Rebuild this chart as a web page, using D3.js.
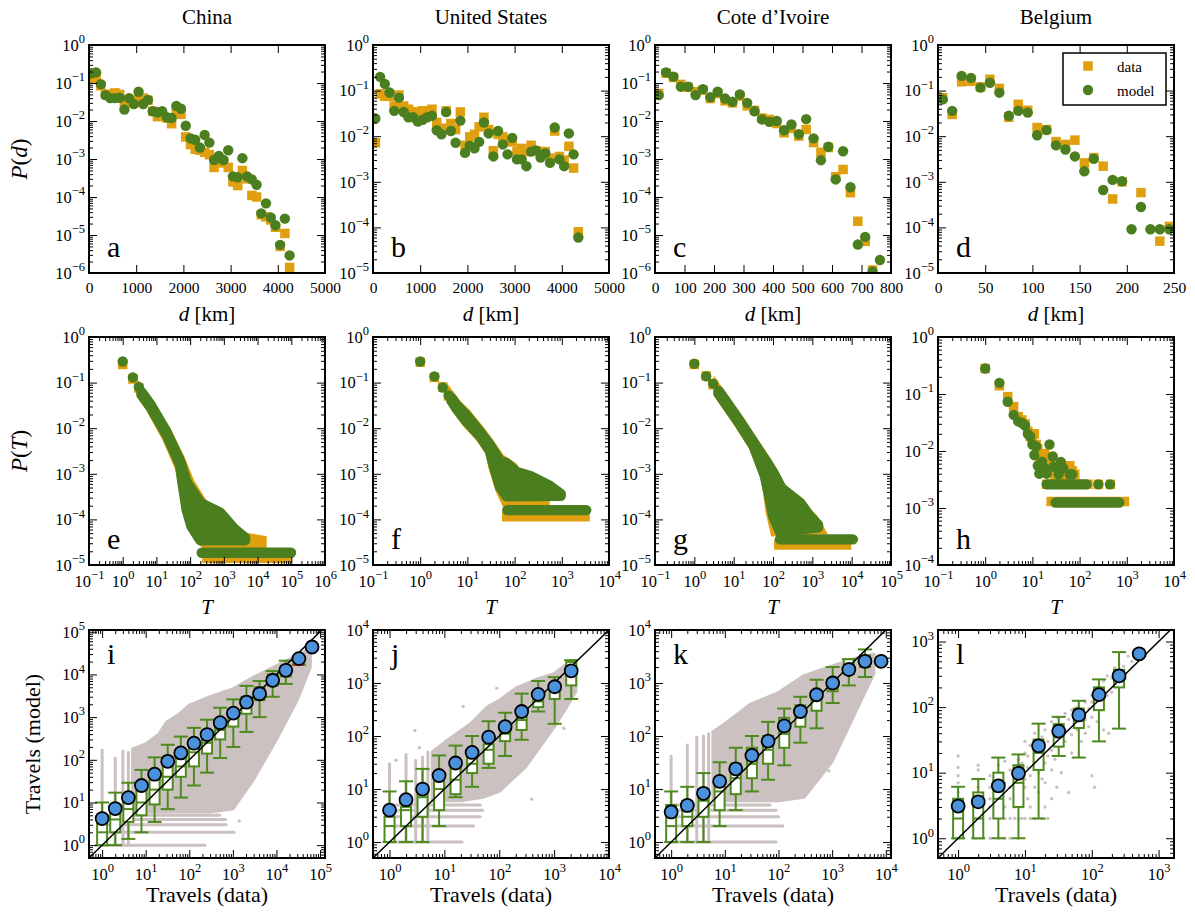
<!DOCTYPE html>
<html>
<head>
<meta charset="utf-8">
<script src="https://cdn.jsdelivr.net/npm/d3@7"></script>
<style>
  body { margin: 0; background: #fff; }
</style>
</head>
<body>
<script>
// ---------------- data ----------------
const countries = ["China", "United States", "Cote d\u2019Ivoire", "Belgium"];

// row 1: distance distributions P(d)
const chinaD = [50,150,250,350,450,550,650,750,850,950,1050,1150,1250,1350,1450,1550,1650,1750,1850,1950,2050,2150,2250,2350,2450,2550,2650,2750,2850,2950,3050,3150,3250,3350,3450,3550,3650,3750,3850,3950,4050,4150,4250];
const chinaDistData = [0.13,0.15,0.085,0.05,0.05,0.055,0.05,0.03,0.035,0.03,0.04,0.04,0.035,0.018,0.013,0.015,0.012,0.0085,0.018,0.015,0.0038,0.0024,0.0018,0.0017,0.0015,0.0013,0.0006,0.0008,0.0008,0.0006,0.00025,0.0002,0.0005,0.0003,0.00011,0.0001,3.4e-5,3e-5,2.5e-5,1.6e-5,5e-6,1.1e-5,1.4e-6];
const chinaDistModel = [0.18,0.19,0.093,0.048,0.04,0.04,0.041,0.02,0.04,0.028,0.059,0.028,0.036,0.018,0.017,0.018,0.0125,0.012,0.025,0.021,0.0075,0.0035,0.0032,0.002,0.0043,0.0027,0.00094,0.0012,0.00094,0.0017,0.00035,0.00033,0.00105,0.00035,0.00029,0.00021,3.7e-5,6.8e-5,2.9e-5,1.8e-5,5.5e-6,2.7e-5,2.9e-6];

const usD = [50,150,250,350,450,550,650,750,850,950,1050,1150,1250,1350,1450,1550,1650,1750,1850,1950,2050,2150,2250,2350,2450,2550,2650,2750,2850,2950,3050,3150,3250,3350,3450,3550,3650,3750,3850,3950,4050,4150,4250,4350];
const usDistData = [0.0072,0.085,0.075,0.075,0.046,0.08,0.046,0.039,0.034,0.034,0.036,0.036,0.039,0.020,0.015,0.036,0.019,0.014,0.034,0.0063,0.0097,0.011,0.016,0.026,0.014,0.0048,0.011,0.0097,0.008,0.0075,0.0046,0.0054,0.0046,0.0063,0.0048,0.0046,0.0046,0.0033,0.013,0.0036,0.003,0.006,0.002,8e-5];
const usDistModel = [0.0245,0.20,0.14,0.091,0.036,0.07,0.034,0.026,0.026,0.021,0.023,0.026,0.028,0.0135,0.011,0.034,0.013,0.0072,0.022,0.0043,0.0062,0.0054,0.0075,0.020,0.0115,0.0036,0.013,0.0066,0.0040,0.0092,0.0031,0.0031,0.0022,0.0046,0.0049,0.0034,0.0042,0.0026,0.0155,0.0031,0.0022,0.0115,0.0040,6e-5];

const civD = [12.5,37.5,62.5,87.5,112.5,137.5,162.5,187.5,212.5,237.5,262.5,287.5,312.5,337.5,362.5,387.5,412.5,437.5,462.5,487.5,512.5,537.5,562.5,587.5,612.5,637.5,662.5,687.5,712.5,737.5,762.5];
const civDistData = [0.053,0.18,0.14,0.092,0.077,0.059,0.065,0.039,0.053,0.034,0.030,0.045,0.025,0.019,0.012,0.011,0.0086,0.0049,0.0064,0.0040,0.006,0.0027,0.0015,0.002,0.00034,0.00053,0.00013,2.3e-5,6.8e-6,1.2e-6,null];
const civDistModel = [0.048,0.19,0.147,0.08,0.08,0.048,0.069,0.042,0.059,0.039,0.032,0.050,0.030,0.018,0.011,0.0095,0.010,0.0057,0.0081,0.0045,0.0112,0.0035,0.00093,0.0021,0.00029,0.0016,0.00018,5.6e-6,8.9e-6,1.1e-6,2.2e-6];

const belD = [5,15,25,35,45,55,65,75,85,95,105,115,125,135,145,155,165,175,185,195,205,215,225,235,245];
const belDistData = [0.07,0.030,0.156,0.16,0.12,0.177,0.112,0.026,0.050,0.037,0.0155,0.014,0.0076,0.0066,0.0082,0.0026,0.0034,0.0022,0.00042,0.001,null,0.00058,null,5e-5,0.000105];
const belDistModel = [0.064,0.036,0.21,0.19,0.116,0.149,0.090,0.028,0.036,0.033,0.0105,0.0136,0.0063,0.0051,0.0036,0.0017,0.0032,0.00066,0.0011,0.00103,9.1e-5,0.00028,9.1e-5,9.1e-5,9.1e-5];

// row 2: travels distributions P(T)
// pts: separate markers, band: outline of the dense run of marker centres, runs: [T from, T to, P]
const chinaTripDataPts = [[1,0.25],[2,0.12],[3,0.076]];
const chinaTripDataBand = [[3.6,0.06],[6.5,0.033],[20,0.0085],[50,0.0022],[100,6.3e-4],[316,1.6e-4],[1230,8.3e-5],[3100,4.2e-5],[13500,3.5e-5],[13500,2.75e-5],[316,2.75e-5],[200,3.5e-5],[100,1.2e-4],[60,6e-4],[50,0.0013],[20,0.0062],[6.5,0.028],[3.6,0.052]];
const chinaTripDataRuns = [[316,75000,1.4e-5]];
const chinaTripModelPts = [[1,0.29],[2,0.13],[3,0.08]];
const chinaTripModelBand = [[3.6,0.062],[6.5,0.034],[20,0.0082],[50,0.0019],[79,6.6e-4],[200,2.3e-4],[780,1.4e-4],[1950,6.4e-5],[4300,3.9e-5],[4300,3.5e-5],[200,3.5e-5],[110,7e-5],[79,1.6e-4],[60,6e-4],[50,0.0016],[20,0.0072],[6.5,0.03],[3.6,0.055]];
const chinaTripModelRuns = [[220,98000,1.86e-5]];

const usTripDataPts = [[1,0.28],[2,0.13],[3,0.08],[4,0.051]];
const usTripDataBand = [[4.6,0.048],[5.9,0.034],[9.6,0.021],[18.6,0.009],[30,0.0046],[49,0.0022],[94,0.0014],[130,6.3e-4],[345,5.7e-4],[440,3.7e-4],[440,2.2e-4],[68,2.2e-4],[49,4.5e-4],[35,0.0014],[30,0.003],[18.6,0.0062],[9.6,0.013],[5.9,0.026],[4.6,0.039]];
const usTripDataRuns = [[68,3100,1.15e-4]];
const usTripModelPts = [[1,0.29],[2,0.137],[3,0.078],[4,0.052]];
const usTripModelBand = [[4.6,0.046],[5.9,0.032],[9.6,0.019],[18.6,0.0082],[30,0.0043],[49,0.0019],[68,0.0017],[110,0.0011],[213,9e-4],[560,5.4e-4],[950,3.6e-4],[950,3.3e-4],[68,3.2e-4],[49,5.2e-4],[35,0.0017],[30,0.0032],[18.6,0.0068],[9.6,0.014],[5.9,0.027],[4.6,0.04]];
const usTripModelRuns = [[70,3300,1.6e-4]];

const civTripDataPts = [[1,0.25],[2,0.14],[3,0.09]];
const civTripDataBand = [[4.1,0.068],[6.6,0.038],[14.5,0.0145],[31.6,0.0052],[69,0.0019],[102,1.1e-3],[167,4.5e-4],[490,1.9e-4],[1070,1.05e-4],[1560,5.9e-5],[112,5.4e-5],[84,1.6e-4],[69,6e-4],[55,0.0013],[31.6,0.004],[14.5,0.0115],[6.6,0.031],[4.1,0.056]];
const civTripDataRuns = [[140,7400,2.75e-5]];
const civTripModelPts = [[1,0.26],[2,0.137],[3,0.095]];
const civTripModelBand = [[4.1,0.066],[6.6,0.037],[14.5,0.014],[31.6,0.005],[69,0.0018],[102,1.05e-3],[166,4.8e-4],[490,2.3e-4],[880,1.15e-4],[1400,7.6e-5],[1400,6.7e-5],[150,5.4e-5],[102,1.15e-4],[76,4e-4],[62,9e-4],[31.6,0.0042],[14.5,0.012],[6.6,0.032],[4.1,0.058]];
const civTripModelRuns = [[150,10700,3.65e-5]];

const belTripDataPts = [[1,0.28],[2,0.14],[3,0.09],[4,0.06],[5,0.04],[6,0.035],[7,0.03],[8,0.022],[9,0.018],[10,0.016],[11,0.02],[12,0.013],[13,0.011],[14,0.0066],[15,0.006],[16,0.007],[17,0.005],[18,0.009],[20,0.006],[22,0.0045],[24,0.0055],[25,0.008],[28,0.005],[30,0.0035],[35,0.004],[40,0.0045],[45,0.0035],[50,0.005],[62,0.0055],[70,0.0045],[79,0.0039]];
const belTripDataRuns = [[20,150,0.0026],[250,250,0.0026],[450,450,0.0026],[25,890,0.0013]];
const belTripModelPts = [[1,0.28],[2,0.157],[3,0.073],[4,0.043],[5,0.033],[6,0.031],[7,0.028],[8,0.02],[9,0.018],[10,0.013],[11,0.0085],[12,0.012],[13,0.0055],[14,0.004],[16,0.0065],[18,0.005],[20,0.004],[23,0.013],[27,0.008],[28,0.0053],[36,0.0039],[40,0.0064],[45,0.005],[62,0.0039],[70,0.0039]];
const belTripModelRuns = [[20,140,0.0026],[250,250,0.0026],[440,440,0.0026],[31,690,0.00125]];

// row 3: travels model vs data, binned
const chinaBins = [1,2,4,8,16,32,64,128,256,512,1024,2048,4096,8192,16384,32768,65536];
const chinaMean = [4.2,7.2,13,25,46,92,145,245,390,740,1240,2240,3530,7300,12500,23500,44000];
const chinaBox = [[1,1,2,4,10],[1,2,4,8,17],[1.4,3.5,7,15,29],[2,5,10,20,58],[3.5,9,20,45,114],[7,20,40,70,225],[13,40,70,120,350],[25,70,150,250,560],[50,140,250,400,870],[110,300,500,800,1660],[200,600,1000,1500,2600],[450,1200,1800,3000,5400],[1000,2500,3500,5000,7000],[3000,5500,7000,10000,12000],[6000,9000,12000,15000,21000],[17000,17000,17000,17000,17000]];
const chinaCloud = [[5,6],[5,180],[10,236],[20,400],[30,760],[60,1200],[100,1900],[300,3000],[1000,4600],[3000,8700],[10000,16000],[30000,28000],[60000,40000],[60000,15000],[30000,2500],[10000,300],[3000,35],[1000,7],[300,6],[100,6],[30,6],[10,6]];
const chinaVStreaks = [[1,170],[2,110],[3,160],[4,150]];
const chinaHStreaks = [[1,230],[2,1070],[3,700],[4,680],[5,500]];
const chinaScatter = [[1400,3.7]];

const usBins = [1,2,4,8,16,32,64,128,256,512,1024,2048];
const usMean = [4.0,6.3,10,18,31,49,95,150,290,610,850,1700];
const usBox = [[1,1,2,3,9],[1,2,4,4.6,14],[1,3,7,8,24],[2,4,10,14,43],[7,8,15,25,66],[11,20,30,45,100],[25,30,55,70,190],[42,80,110,180,275],[85,130,200,300,630],[290,350,450,700,1090],[170,500,800,1000,1290],[500,900,1800,2500,2700]];
const usCloud = [[6,6],[6,50],[10,76],[30,170],[60,350],[100,470],[200,800],[500,1200],[1000,1500],[2000,2600],[2500,2600],[2500,700],[2000,470],[1000,147],[300,26],[100,9],[50,7],[20,6]];
const usVStreaks = [[1,30],[2,45],[3,35],[4,40],[5,50]];
const usHStreaks = [[1,21],[2,34],[3,45],[4,50],[5,45]];
const usScatter = [[2.9,127],[22,360],[90,800],[220,20],[390,6.4],[1500,140],[3.5,60],[1.3,35]];

const civBins = [1,2,4,8,16,32,64,128,256,512,1024,2048,4096,8192];
const civMean = [3.7,4.9,8.3,14,24,43,80,155,290,600,1000,1800,2570,2570];
const civBox = [[1,1,2,5,9],[1,2,3,6,11],[1,3,6,10,20],[2,4,9,15,32],[4,8,16,30,60],[9,16,30,60,100],[15,30,55,100,185],[28,60,110,220,330],[75,150,250,380,550],[140,300,500,700,1150],[420,700,900,1200,2000],[900,1500,2000,2800,2800],[1300,2000,2600,3300,4300]];
const civCloud = [[6,6],[6,120],[10,170],[30,400],[100,660],[300,1380],[1000,2100],[3000,3000],[6000,3500],[6000,1500],[3000,345],[1000,33],[300,7],[100,6],[30,6]];
const civVStreaks = [[1,42],[2,68],[3,95],[4,100],[5,110]];
const civHStreaks = [[1,90],[2,120],[3,100],[4,90],[5,70]];
const civScatter = [[870,22]];

const belBins = [1,2,4,8,16,32,64,128,256,512];
const belMean = [3.1,3.6,6.3,9.8,25.7,43,76,155,300,650];
const belBox = [[1,1,2,4,6.1],[1,1,2,5,8],[1,2,4,10,17],[1,3,7,13,19],[2,11,20,32,56],[18,25,38,55,71],[17,48,65,95,125],[30,90,150,200,265],[47,200,300,370,690],[630,630,630,630,630]];
const belScatter = [[1,18],[1,12],[1,9],[1,7],[1,5],[1,4],[1,3],[1,2],[2,13],[2,11],[2,8],[2,6],[2,3],[2,2],[3,9],[3,6],[3,4],[3,3],[3,2],[3,1],[4,13],[4,8],[4,5],[4,3],[4,2],[4,1],[5,15],[5,7],[5,3],[5,2],[5,1],[6,11],[6,6],[6,4],[6,2],[6,1],[7,9],[7,5],[7,3],[7,2],[8,16],[8,12],[8,6],[8,4],[8,2],[8,1],[9,14],[9,10],[9,5],[9,3],[9,2],[10,30],[10,20],[10,8],[10,6],[10,2],[11,18],[11,12],[11,4],[12,26],[12,9],[12,3],[12,2],[14,40],[14,15],[14,6],[14,2],[16,25],[16,10],[16,5],[18,35],[18,20],[18,8],[18,2],[20,45],[20,14],[20,7],[20,3],[22,30],[22,18],[22,2],[25,60],[25,22],[25,11],[25,4],[28,48],[28,28],[28,16],[30,70],[30,35],[30,6],[35,55],[35,25],[35,10],[40,80],[40,45],[40,30],[45,65],[45,5],[50,90],[50,38],[50,20],[60,100],[60,70],[60,45],[70,85],[70,55],[70,30],[80,120],[80,65],[80,40],[90,95],[90,50],[100,150],[100,120],[100,70],[100,9],[110,6],[120,200],[120,110],[120,60],[140,180],[140,90],[150,250],[150,130],[170,150],[170,300],[200,280],[200,170],[220,400],[250,330],[300,420],[320,270],[350,600],[400,500],[450,700],[480,550],[500,800],[150,45],[180,40]];

// ---------------- layout ----------------
const colX = [89, 373, 655, 938], rowY = [45, 337, 630];
const PW = 236, PH = 228;
const FONT = "'Liberation Serif', 'Times New Roman', serif";
const ORANGE = "#e09f0e", GREEN = "#4b7e1e", BOXGREEN = "#4f8a1f", GRAY = "#ccc1c1", BLUE = "#4b91db";

const svg = d3.select("body").append("svg")
  .attr("width", 1195).attr("height", 915)
  .attr("font-family", FONT);

let clipCount = 0;
function makePanel(col, row) {
  const g = svg.append("g").attr("transform", `translate(${colX[col]},${rowY[row]})`);
  const id = "clip" + (clipCount++);
  g.append("clipPath").attr("id", id).append("rect").attr("width", PW).attr("height", PH);
  const plot = g.append("g").attr("clip-path", `url(#${id})`);
  return { g, plot };
}

function logTicks(dom) {
  const major = [], minor = [];
  for (let p = -8; p <= 8; p++) {
    for (let k = 1; k < 10; k++) {
      const v = k * Math.pow(10, p);
      if (v < dom[0] * 0.999 || v > dom[1] * 1.001) continue;
      (k === 1 ? major : minor).push(v);
    }
  }
  return { major, minor };
}

function powLabel(text, v) {
  const e = Math.round(Math.log10(v));
  text.text(null).attr("font-size", 16.5);
  text.append("tspan").text("10");
  text.append("tspan").attr("dy", -7.5).attr("font-size", 12.5).text(e < 0 ? "\u2212" + (-e) : e);
}

// xcfg / ycfg: {major, minor, log}
function drawAxes(g, x, y, xcfg, ycfg, xpad) {
  const side = (axis, tr, vals, len, labels, pad, log) => {
    const a = g.append("g")
      .call(axis.tickValues(vals).tickSize(-len).tickPadding(pad).tickFormat(labels ? (d => d) : () => ""));
    if (tr) a.attr("transform", tr);
    a.select(".domain").remove();
    a.attr("font-family", FONT).attr("font-size", 15.5);
    a.selectAll("line").attr("stroke", "#000").attr("stroke-width", 1);
    a.selectAll("text").attr("fill", "#000");
    if (labels && log) a.selectAll("text").each(function (d) { powLabel(d3.select(this), d); });
  };
  side(d3.axisBottom(x), `translate(0,${PH})`, xcfg.major, 8, true, xpad, xcfg.log);
  side(d3.axisTop(x), null, xcfg.major, 8, false, 0);
  side(d3.axisLeft(y), null, ycfg.major, 8, true, 4, ycfg.log);
  side(d3.axisRight(y), `translate(${PW},0)`, ycfg.major, 8, false, 0);
  if (xcfg.minor) {
    side(d3.axisBottom(x), `translate(0,${PH})`, xcfg.minor, 4, false, 0);
    side(d3.axisTop(x), null, xcfg.minor, 4, false, 0);
  }
  if (ycfg.minor) {
    side(d3.axisLeft(y), null, ycfg.minor, 4, false, 0);
    side(d3.axisRight(y), `translate(${PW},0)`, ycfg.minor, 4, false, 0);
  }
  g.append("rect").attr("width", PW).attr("height", PH)
    .attr("fill", "none").attr("stroke", "#000").attr("stroke-width", 2);
}

function letter(g, s, top) {
  g.append("text").attr("x", 18).attr("y", top ? 34 : PH - 16)
    .attr("font-size", 30).text(s);
}

const sq = 9.5, cr = 5.2;
function squares(plot, pts, x, y) {
  plot.selectAll(null).data(pts).join("rect")
    .attr("x", d => x(d[0]) - sq / 2).attr("y", d => y(d[1]) - sq / 2)
    .attr("width", sq).attr("height", sq).attr("fill", ORANGE);
}
function circles(plot, pts, x, y) {
  plot.selectAll(null).data(pts).join("circle")
    .attr("cx", d => x(d[0])).attr("cy", d => y(d[1])).attr("r", cr).attr("fill", GREEN);
}

// ---------------- row 1: P(d) ----------------
const row1 = [
  { d: chinaD, data: chinaDistData, model: chinaDistModel, xd: [0, 5000], xt: [0,1000,2000,3000,4000,5000], yd: [1e-6, 1], l: "a" },
  { d: usD, data: usDistData, model: usDistModel, xd: [0, 5000], xt: [0,1000,2000,3000,4000,5000], yd: [1e-5, 1], l: "b" },
  { d: civD, data: civDistData, model: civDistModel, xd: [0, 800], xt: [0,100,200,300,400,500,600,700,800], yd: [1e-6, 1], l: "c" },
  { d: belD, data: belDistData, model: belDistModel, xd: [0, 250], xt: [0,50,100,150,200,250], yd: [1e-5, 1], l: "d" }
];
row1.forEach((c, i) => {
  const { g, plot } = makePanel(i, 0);
  const x = d3.scaleLinear().domain(c.xd).range([0, PW]);
  const y = d3.scaleLog().domain(c.yd).range([PH, 0]);
  const pd = c.d.map((v, k) => [v, c.data[k]]).filter(p => p[1] != null);
  const pm = c.d.map((v, k) => [v, c.model[k]]).filter(p => p[1] != null);
  squares(plot, pd, x, y);
  circles(plot, pm, x, y);
  const yt = logTicks(c.yd);
  drawAxes(g, x, y, { major: c.xt }, { major: yt.major, minor: yt.minor, log: true }, 9);
  letter(g, c.l, false);
  if (i === 3) {
    const lg = g.append("g").attr("transform", `translate(${1063 - colX[3]},${53 - rowY[0]})`);
    lg.append("rect").attr("width", 103).attr("height", 52).attr("fill", "#fff")
      .attr("stroke", "#000").attr("stroke-width", 1.5);
    lg.append("rect").attr("x", 25 - sq / 2).attr("y", 13 - sq / 2).attr("width", sq).attr("height", sq).attr("fill", ORANGE);
    lg.append("circle").attr("cx", 25).attr("cy", 37).attr("r", cr).attr("fill", GREEN);
    lg.append("text").attr("x", 54).attr("y", 19).attr("font-size", 15).text("data");
    lg.append("text").attr("x", 54).attr("y", 43).attr("font-size", 15).text("model");
  }
});

// ---------------- row 2: P(T) ----------------
const row2 = [
  { dp: chinaTripDataPts, db: chinaTripDataBand, dr: chinaTripDataRuns, mp: chinaTripModelPts, mb: chinaTripModelBand, mr: chinaTripModelRuns, xd: [0.1, 1e6], yd: [1e-5, 1], l: "e" },
  { dp: usTripDataPts, db: usTripDataBand, dr: usTripDataRuns, mp: usTripModelPts, mb: usTripModelBand, mr: usTripModelRuns, xd: [0.1, 1e4], yd: [1e-5, 1], l: "f" },
  { dp: civTripDataPts, db: civTripDataBand, dr: civTripDataRuns, mp: civTripModelPts, mb: civTripModelBand, mr: civTripModelRuns, xd: [0.1, 1e5], yd: [1e-5, 1], l: "g" },
  { dp: belTripDataPts, db: null, dr: belTripDataRuns, mp: belTripModelPts, mb: null, mr: belTripModelRuns, xd: [0.1, 1e4], yd: [1e-4, 1], l: "h" }
];
function bandAndRuns(plot, band, runs, x, y, color, w, round) {
  if (band) {
    plot.append("path").datum(band)
      .attr("d", d3.line().x(d => x(d[0])).y(d => y(d[1])).curve(d3.curveLinearClosed))
      .attr("fill", color).attr("stroke", color).attr("stroke-width", w)
      .attr("stroke-linejoin", round ? "round" : "miter");
  }
  plot.selectAll(null).data(runs).join("line")
    .attr("x1", d => x(d[0])).attr("x2", d => x(d[1]))
    .attr("y1", d => y(d[2])).attr("y2", d => y(d[2]))
    .attr("stroke", color).attr("stroke-width", w)
    .attr("stroke-linecap", round ? "round" : "square");
}
row2.forEach((c, i) => {
  const { g, plot } = makePanel(i, 1);
  const x = d3.scaleLog().domain(c.xd).range([0, PW]);
  const y = d3.scaleLog().domain(c.yd).range([PH, 0]);
  bandAndRuns(plot, c.db, c.dr, x, y, ORANGE, sq, false);
  squares(plot, c.dp, x, y);
  bandAndRuns(plot, c.mb, c.mr, x, y, GREEN, cr * 2, true);
  circles(plot, c.mp, x, y);
  const xt = logTicks(c.xd), yt = logTicks(c.yd);
  drawAxes(g, x, y, { major: xt.major, minor: xt.minor, log: true }, { major: yt.major, minor: yt.minor, log: true }, 10);
  letter(g, c.l, false);
});

// ---------------- row 3: travels model vs data ----------------
const row3 = [
  { bins: chinaBins, mean: chinaMean, box: chinaBox, cloud: chinaCloud, vs: chinaVStreaks, hs: chinaHStreaks, sc: chinaScatter, xd: [0.5, 1.3e5], yd: [0.5, 1.1e5], l: "i", red: 15 },
  { bins: usBins, mean: usMean, box: usBox, cloud: usCloud, vs: usVStreaks, hs: usHStreaks, sc: usScatter, xd: [0.5, 1e4], yd: [0.5, 1e4], l: "j", red: -1 },
  { bins: civBins, mean: civMean, box: civBox, cloud: civCloud, vs: civVStreaks, hs: civHStreaks, sc: civScatter, xd: [0.5, 1.25e4], yd: [0.5, 1e4], l: "k", red: -1 },
  { bins: belBins, mean: belMean, box: belBox, cloud: null, vs: [], hs: [], sc: belScatter, xd: [0.5, 1.7e3], yd: [0.5, 1.5e3], l: "l", red: 9 }
];
row3.forEach((c, i) => {
  const { g, plot } = makePanel(i, 2);
  const x = d3.scaleLog().domain(c.xd).range([0, PW]);
  const y = d3.scaleLog().domain(c.yd).range([PH, 0]);

  // gray scatter of individual links
  if (c.cloud) {
    plot.append("path").datum(c.cloud)
      .attr("d", d3.line().x(d => x(d[0])).y(d => y(d[1])).curve(d3.curveLinearClosed))
      .attr("fill", GRAY).attr("stroke", GRAY).attr("stroke-width", 3).attr("stroke-linejoin", "round");
  }
  plot.selectAll(null).data(c.vs).join("line")
    .attr("x1", d => x(d[0])).attr("x2", d => x(d[0]))
    .attr("y1", y(1)).attr("y2", d => y(d[1]))
    .attr("stroke", GRAY).attr("stroke-width", 3).attr("stroke-linecap", "round");
  plot.selectAll(null).data(c.hs).join("line")
    .attr("x1", x(1)).attr("x2", d => x(d[1]))
    .attr("y1", d => y(d[0])).attr("y2", d => y(d[0]))
    .attr("stroke", GRAY).attr("stroke-width", 3).attr("stroke-linecap", "round");
  plot.selectAll(null).data(c.sc).join("circle")
    .attr("cx", d => x(d[0])).attr("cy", d => y(d[1])).attr("r", 1.7).attr("fill", GRAY);

  // boxes
  c.box.forEach((b, k) => {
    const cx = x(c.bins[k]);
    const [lo, q1, med, q3, hi] = b;
    const gb = plot.append("g").attr("stroke", BOXGREEN).attr("stroke-width", 2).attr("fill", "none");
    gb.append("line").attr("x1", cx).attr("x2", cx).attr("y1", y(lo)).attr("y2", y(q1));
    gb.append("line").attr("x1", cx).attr("x2", cx).attr("y1", y(q3)).attr("y2", y(hi));
    gb.append("line").attr("x1", cx - 7).attr("x2", cx + 7).attr("y1", y(lo)).attr("y2", y(lo));
    gb.append("line").attr("x1", cx - 7).attr("x2", cx + 7).attr("y1", y(hi)).attr("y2", y(hi));
    gb.append("rect").attr("x", cx - 5).attr("width", 10).attr("y", y(q3)).attr("height", y(q1) - y(q3)).attr("fill", "#fff");
    gb.append("line").attr("x1", cx - 5).attr("x2", cx + 5).attr("y1", y(med)).attr("y2", y(med))
      .attr("stroke", k === c.red ? "#e00000" : BOXGREEN);
  });

  // y = x
  const lo = Math.max(c.xd[0], c.yd[0]), hi = Math.min(c.xd[1], c.yd[1]) * 2;
  plot.append("line").attr("x1", x(lo)).attr("y1", y(lo)).attr("x2", x(hi)).attr("y2", y(hi))
    .attr("stroke", "#000").attr("stroke-width", 1.5);

  // means
  plot.selectAll(null).data(c.mean.map((m, k) => [c.bins[k], m])).join("circle")
    .attr("cx", d => x(d[0])).attr("cy", d => y(d[1])).attr("r", 6.5)
    .attr("fill", BLUE).attr("stroke", "#000").attr("stroke-width", 1.8);

  const xt = logTicks(c.xd), yt = logTicks(c.yd);
  drawAxes(g, x, y, { major: xt.major, minor: xt.minor, log: true }, { major: yt.major, minor: yt.minor, log: true }, 10);
  letter(g, c.l, true);
});

// ---------------- titles and labels ----------------
countries.forEach((n, i) => {
  const cx = colX[i] + PW / 2;
  svg.append("text").attr("x", cx).attr("y", 24).attr("text-anchor", "middle").attr("font-size", 21).text(n);
  const t1 = svg.append("text").attr("x", cx).attr("y", 321).attr("text-anchor", "middle").attr("font-size", 21);
  t1.append("tspan").attr("font-style", "italic").text("d");
  t1.append("tspan").text(" [km]");
  svg.append("text").attr("x", cx).attr("y", 614).attr("text-anchor", "middle").attr("font-size", 21)
    .attr("font-style", "italic").text("T");
  svg.append("text").attr("x", cx).attr("y", 902).attr("text-anchor", "middle").attr("font-size", 22).text("Travels (data)");
});
function ylabel(row, cx, parts, fs) {
  const t = svg.append("text")
    .attr("transform", `translate(${cx},${rowY[row] + PH / 2}) rotate(-90)`)
    .attr("text-anchor", "middle").attr("font-size", fs);
  parts.forEach(([s, it]) => t.append("tspan").attr("font-style", it ? "italic" : null).text(s));
}
ylabel(0, 27, [["P", true], ["(", false], ["d", true], [")", false]], 23);
ylabel(1, 27, [["P", true], ["(", false], ["T", true], [")", false]], 23);
ylabel(2, 40, [["Travels (model)", false]], 22);
</script>
</body>
</html>
